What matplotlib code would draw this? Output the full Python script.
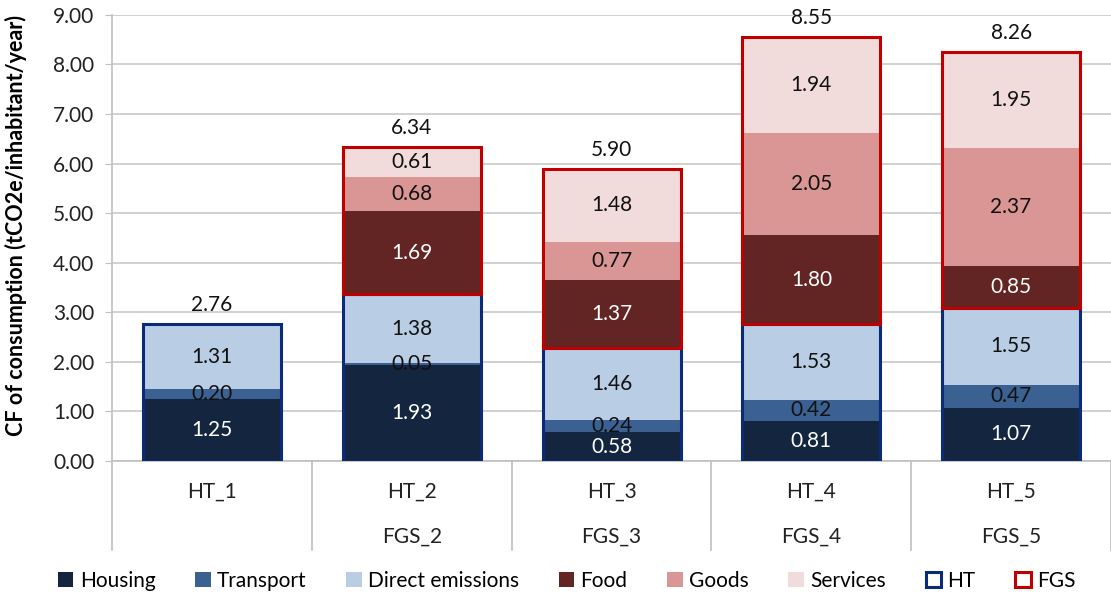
import numpy as np
import matplotlib
matplotlib.use("Agg")
import matplotlib.pyplot as plt
from matplotlib.patches import Patch

# ── Data ──────────────────────────────────────────────
ht_labels = ["HT_1", "HT_2", "HT_3", "HT_4", "HT_5"]
fgs_labels = ["", "FGS_2", "FGS_3", "FGS_4", "FGS_5"]

housing = [1.25, 1.93, 0.58, 0.81, 1.07]
transport = [0.20, 0.05, 0.24, 0.42, 0.47]
direct = [1.31, 1.38, 1.46, 1.53, 1.55]
food = [0, 1.69, 1.37, 1.80, 0.85]
goods = [0, 0.68, 0.77, 2.05, 2.37]
services = [0, 0.61, 1.48, 1.94, 1.95]
totals = [2.76, 6.34, 5.90, 8.55, 8.26]

series_names = ["Housing", "Transport", "Direct emissions", "Food", "Goods", "Services"]
series_values = [housing, transport, direct, food, goods, services]
series_colors = ["#13253F", "#3A6192", "#B9CDE5", "#632523", "#D99694", "#F2DCDB"]
label_colors = ["white", "#111111", "#111111", "white", "#111111", "#111111"]

HT_EDGE = "#0B2A7A"
FGS_EDGE = "#C00000"
FS = 15

plt.rcParams["font.family"] = ["Lato", "DejaVu Sans"]

fig = plt.figure(figsize=(11.11, 5.94), dpi=100)
ax = fig.add_axes([0.101, 0.224, 0.899, 0.751])

x = np.arange(len(ht_labels))
w = 0.69

bottom = np.zeros(len(x))
for name, vals, col, lcol in zip(series_names, series_values, series_colors, label_colors):
    vals = np.array(vals)
    ax.bar(x, vals, w, bottom=bottom, color=col, edgecolor="none", zorder=2)
    for i, v in enumerate(vals):
        if v > 0:
            ax.text(x[i], bottom[i] + v / 2, f"{v:.2f}", ha="center", va="center",
                    fontsize=FS, color=lcol, zorder=4)
    bottom += vals

# outlines for the HT and FGS parts
ht_sum = np.array(housing) + np.array(transport) + np.array(direct)
fgs_sum = np.array(food) + np.array(goods) + np.array(services)
ax.bar(x, ht_sum, w, fill=False, edgecolor=HT_EDGE, linewidth=2.2, zorder=3)
mask = fgs_sum > 0
ax.bar(x[mask], fgs_sum[mask], w, bottom=ht_sum[mask], fill=False,
       edgecolor=FGS_EDGE, linewidth=2.2, zorder=3)

for i, t in enumerate(totals):
    ax.text(x[i], t + 0.38, f"{t:.2f}", ha="center", va="center", fontsize=FS,
            color="#111111", clip_on=False)

ax.set_xlim(-0.5, len(x) - 0.5)
ax.set_ylim(0, 9)
ax.set_yticks(np.arange(0, 10, 1))
ax.set_yticklabels([f"{v:.2f}" for v in np.arange(0, 10, 1)], fontsize=FS, color="#222222")
ax.yaxis.grid(True, color="#C8C8C8", linewidth=1.2, zorder=0)
ax.set_axisbelow(True)
ax.tick_params(axis="y", length=5, color="#BFBFBF", pad=8)
ax.tick_params(axis="x", bottom=False, labelbottom=False)
for s in ["top", "right"]:
    ax.spines[s].set_visible(False)
ax.spines["left"].set_color("#BFBFBF")
ax.spines["bottom"].set_color("#BFBFBF")
ax.spines["left"].set_linewidth(1.2)
ax.spines["bottom"].set_linewidth(1.2)

ax.set_ylabel("CF of consumption (tCO2e/inhabitant/year)", fontsize=15.5,
              fontweight="bold")
ax.yaxis.set_label_coords(-0.085, 0.527)

# two-level category labels
trans = ax.get_xaxis_transform()
for i in range(len(x)):
    ax.text(x[i], -0.07, ht_labels[i], transform=trans, ha="center", va="center",
            fontsize=FS, color="#222222")
    ax.text(x[i], -0.17, fgs_labels[i], transform=trans, ha="center", va="center",
            fontsize=FS, color="#222222")
for b in np.arange(-0.5, len(x), 1.0):
    ax.plot([b, b], [0, -0.2], transform=trans, color="#BFBFBF", linewidth=1.2, clip_on=False)

handles = [Patch(facecolor=c, edgecolor="none", label=n)
           for n, c in zip(series_names, series_colors)]
handles.append(Patch(facecolor="white", edgecolor=HT_EDGE, linewidth=2.2, label="HT"))
handles.append(Patch(facecolor="white", edgecolor=FGS_EDGE, linewidth=2.2, label="FGS"))
fig.legend(handles=handles, loc="center", bbox_to_anchor=(0.51, 0.022), ncol=8,
           frameon=False, fontsize=FS, handlelength=0.75, handleheight=0.75,
           handletextpad=0.3, columnspacing=1.9, borderpad=0.1)

fig.savefig("out.png", dpi=100)
